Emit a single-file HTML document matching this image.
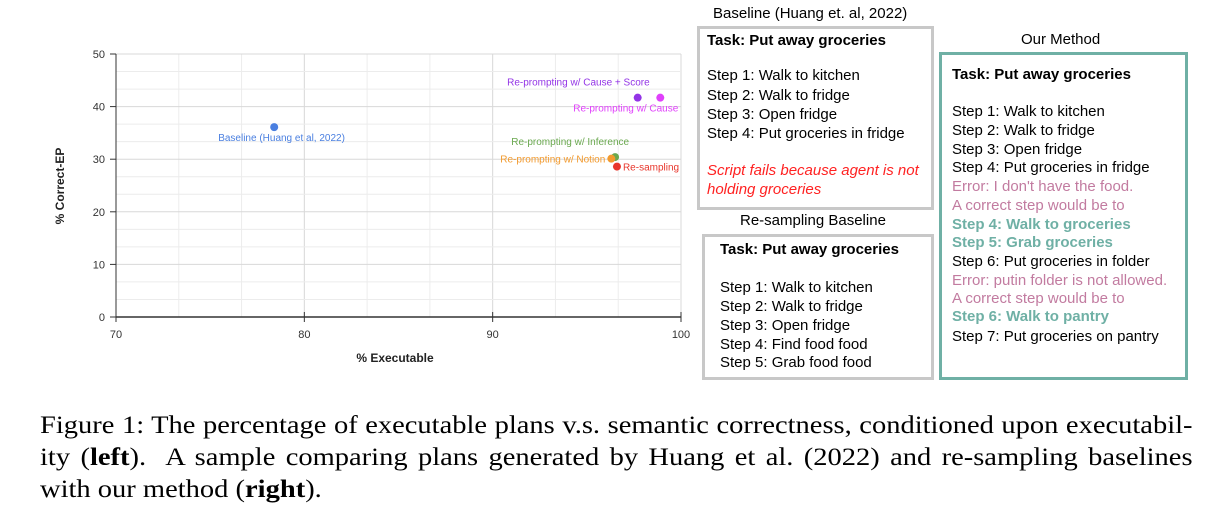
<!DOCTYPE html>
<html><head><meta charset="utf-8"><style>
body{margin:0;width:1222px;height:514px;background:#fff;position:relative;overflow:hidden;font-family:"Liberation Sans",sans-serif}
.t{position:absolute;white-space:nowrap;font-size:15px;line-height:18px;color:#000}
.b{font-weight:bold}
.box{position:absolute;box-sizing:border-box}
.cl{position:absolute;left:40px;width:1011px;transform:scaleX(1.14);transform-origin:0 0;font-family:"Liberation Serif",serif;font-size:25px;line-height:32px;text-align:justify;text-align-last:justify;color:#000;white-space:nowrap}
</style></head><body>
<svg id="chart" width="700" height="390" style="position:absolute;left:0;top:0" font-family="Liberation Sans, sans-serif"></svg>

<div class="t" style="left:713px;top:5px">Baseline (Huang et. al, 2022)</div>
<div class="box" style="left:697px;top:26px;width:237px;height:184px;border:3px solid #c8c8c8"></div>
<div class="t b" style="left:707px;top:32px">Task: Put away groceries</div>
<div class="t" style="left:707px;top:67px">Step 1: Walk to kitchen</div>
<div class="t" style="left:707px;top:87px">Step 2: Walk to fridge</div>
<div class="t" style="left:707px;top:106px">Step 3: Open fridge</div>
<div class="t" style="left:707px;top:125px">Step 4: Put groceries in fridge</div>
<div class="t" style="left:707px;top:162px;color:#f22;font-style:italic">Script fails because agent is not</div>
<div class="t" style="left:707px;top:181px;color:#f22;font-style:italic">holding groceries</div>

<div class="t" style="left:740px;top:212px">Re-sampling Baseline</div>
<div class="box" style="left:702px;top:234px;width:232px;height:146px;border:3px solid #c8c8c8"></div>
<div class="t b" style="left:720px;top:241px">Task: Put away groceries</div>
<div class="t" style="left:720px;top:279px">Step 1: Walk to kitchen</div>
<div class="t" style="left:720px;top:298px">Step 2: Walk to fridge</div>
<div class="t" style="left:720px;top:317px">Step 3: Open fridge</div>
<div class="t" style="left:720px;top:336px">Step 4: Find food food</div>
<div class="t" style="left:720px;top:354px">Step 5: Grab food food</div>

<div class="t" style="left:1021px;top:31px">Our Method</div>
<div class="box" style="left:939px;top:52px;width:249px;height:328px;border:3px solid #6fb0a5"></div>
<div class="t b" style="left:952px;top:66px">Task: Put away groceries</div>
<div class="t" style="left:952px;top:103px">Step 1: Walk to kitchen</div>
<div class="t" style="left:952px;top:122px">Step 2: Walk to fridge</div>
<div class="t" style="left:952px;top:141px">Step 3: Open fridge</div>
<div class="t" style="left:952px;top:159px">Step 4: Put groceries in fridge</div>
<div class="t" style="left:952px;top:178px;color:#c27ba0">Error: I don't have the food.</div>
<div class="t" style="left:952px;top:197px;color:#c27ba0">A correct step would be to</div>
<div class="t b" style="left:952px;top:216px;color:#6fb0a5">Step 4: Walk to groceries</div>
<div class="t b" style="left:952px;top:234px;color:#6fb0a5">Step 5: Grab groceries</div>
<div class="t" style="left:952px;top:253px">Step 6: Put groceries in folder</div>
<div class="t" style="left:952px;top:272px;color:#c27ba0">Error: putin folder is not allowed.</div>
<div class="t" style="left:952px;top:290px;color:#c27ba0">A correct step would be to</div>
<div class="t b" style="left:952px;top:308px;color:#6fb0a5">Step 6: Walk to pantry</div>
<div class="t" style="left:952px;top:328px">Step 7: Put groceries on pantry</div>

<div class="cl" style="top:410px">Figure 1: The percentage of executable plans v.s. semantic correctness, conditioned upon executabil-</div>
<div class="cl" style="top:442px">ity (<b>left</b>).&nbsp; A sample comparing plans generated by Huang et al. (2022) and re-sampling baselines</div>
<div class="cl" style="top:474px;text-align-last:left">with our method (<b>right</b>).</div>

<script>
const categories = ["Baseline (Huang et al, 2022)","Re-prompting w/ Cause + Score","Re-prompting w/ Cause","Re-prompting w/ Inference","Re-prompting w/ Notion","Re-sampling"];
const executable = [78.4, 97.7, 98.9, 96.5, 96.3, 96.6];
const correctEP = [36.1, 41.7, 41.7, 30.4, 30.1, 28.6];
const xTicks = [70, 80, 90, 100];
const yTicks = [0, 10, 20, 30, 40, 50];
const colors = ["#4a7fe0","#9334e6","#e040fb","#6aa84f","#f29a2e","#e8352b"];
// label placement: [dx, dy, anchor]
const labelPos = [[-56,14,"start"],[12,-12,"end"],[18,14,"end"],[14,-12,"end"],[-6,4,"end"],[6,4,"start"]];
const X0=116,X1=681,Y0=317,Y1=54;
const sx=v=>X0+(v-70)/30*(X1-X0);
const sy=v=>Y0-(v-0)/50*(Y0-Y1);
const svg=document.getElementById('chart');
const NS="http://www.w3.org/2000/svg";
function mk(tag,a){const e=document.createElementNS(NS,tag);for(const k in a)e.setAttribute(k,a[k]);svg.appendChild(e);return e;}
for(let i=0;i<=9;i++){const v=70+i*10/3;const l=mk('line',{x1:sx(v),x2:sx(v),y1:Y1,y2:Y0,stroke:i%3?'#ececec':'#d8d8d8'});
}
for(let i=0;i<=15;i++){const v=i*10/3;const l=mk('line',{x1:X0,x2:X1,y1:sy(v),y2:sy(v),stroke:i%3?'#ececec':'#d8d8d8'});
}
mk('line',{x1:X0,x2:X0,y1:Y1,y2:Y0,stroke:'#333'});
const xa=mk('line',{x1:X0,x2:X1,y1:Y0,y2:Y0,stroke:'#333','stroke-width':1.5});

xTicks.forEach(v=>{mk('line',{x1:sx(v),x2:sx(v),y1:Y0-5,y2:Y0+5,stroke:'#333'});
const t=mk('text',{x:sx(v),y:Y0+21,'font-size':11,'text-anchor':'middle',fill:'#333'});t.textContent=v;
});
yTicks.forEach(v=>{mk('line',{x1:X0-6,x2:X0,y1:sy(v),y2:sy(v),stroke:'#333'});
const t=mk('text',{x:X0-11,y:sy(v)+4,'font-size':11,'text-anchor':'end',fill:'#333'});t.textContent=v;
});
const xt=mk('text',{x:395,y:362,'font-size':12,'font-weight':'bold','text-anchor':'middle',fill:'#222'});xt.textContent='% Executable';

const yt=mk('text',{x:0,y:0,'font-size':12,'font-weight':'bold','text-anchor':'middle',fill:'#222',transform:'translate(64,186) rotate(-90)'});yt.textContent='% Correct-EP';

categories.forEach((c,i)=>{const x=sx(executable[i]),y=sy(correctEP[i]);
const p=mk('circle',{cx:x,cy:y,r:4,fill:colors[i]});

const lp=labelPos[i];const t=mk('text',{x:x+lp[0],y:y+lp[1],'font-size':10,'text-anchor':lp[2],fill:colors[i]});t.textContent=c;
});
</script>
</body></html>
